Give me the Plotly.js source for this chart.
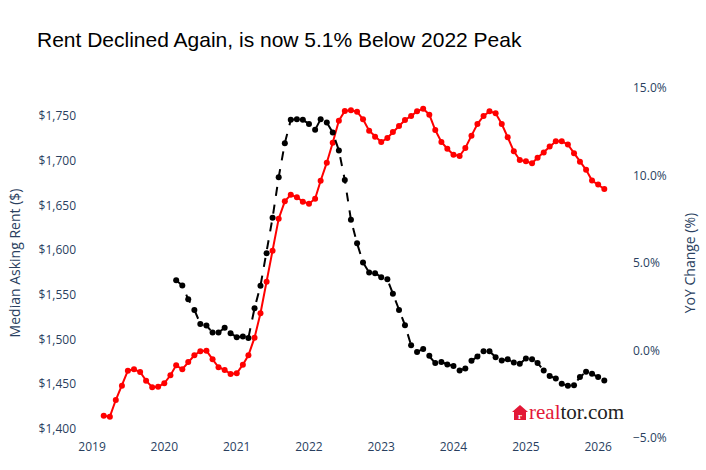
<!DOCTYPE html>
<html>
<head>
<meta charset="utf-8">
<script src="https://cdn.plot.ly/plotly-3.0.1.min.js"></script>
<style>
html,body{margin:0;padding:0;background:#fff;}
#chart{width:706px;height:470px;}
</style>
</head>
<body>
<div id="chart"></div>
<script>
// ---- Data ----
// Median asking rent, monthly, starting March 2019
const rentStartYear = 2019, rentStartMonth = 3;
const rentValues = [
  1414.9, 1413.8, 1432.4, 1448.4, 1465.2, 1466.8, 1463.7, 1454.0, 1446.6, 1447.3,
  1451.1, 1460.0, 1471.2, 1466.8, 1474.9, 1482.4, 1486.9, 1487.6, 1477.9, 1469.0, 1466.0, 1461.5,
  1462.3, 1471.9, 1482.4, 1502.1, 1529.4, 1564.7, 1599.4, 1635.2, 1654.6, 1662.0, 1659.1, 1654.2,
  1651.9, 1657.5, 1677.6, 1697.8, 1720.1, 1744.7, 1755.6, 1756.4, 1754.8, 1746.3, 1733.6, 1726.9,
  1720.9, 1725.4, 1732.1, 1738.8, 1745.5, 1750.0, 1755.2, 1758.2, 1751.5, 1734.3, 1720.9, 1713.4,
  1706.7, 1705.3, 1714.2, 1728.0, 1741.0, 1750.0, 1755.2, 1753.0, 1741.0, 1726.2, 1710.5, 1700.8,
  1699.4, 1697.2, 1703.2, 1709.2, 1715.9, 1721.8, 1721.8, 1718.1, 1708.4, 1698.8, 1689.8, 1677.9,
  1673.5, 1668.3
];
// Year-over-year change (%), monthly, starting March 2020
const yoyStartYear = 2020, yoyStartMonth = 3;
const yoyValues = [
  4.02, 3.71, 2.93, 2.32, 1.52, 1.43, 1.03, 1.03, 1.30, 0.99,
  0.76, 0.80, 0.72, 2.42, 3.70, 5.56, 7.58, 9.90, 11.85, 13.18, 13.22, 13.18,
  12.95, 12.61, 13.22, 13.03, 12.46, 11.43, 9.75, 7.47, 6.13, 5.03, 4.46, 4.42,
  4.19, 4.07, 3.24, 2.32, 1.45, 0.30, -0.08, 0.08, -0.30, -0.72, -0.65, -0.80,
  -0.88, -1.14, -1.03, -0.59, -0.34, -0.04, -0.04, -0.38, -0.57, -0.50, -0.69, -0.76,
  -0.46, -0.50, -0.72, -1.14, -1.45, -1.60, -1.90, -2.02, -1.98, -1.52, -1.22, -1.33,
  -1.52, -1.71
];
const xTickYears = ['2019','2020','2021','2022','2023','2024','2025','2026'];
const titleText = 'Rent Declined Again, is now 5.1% Below 2022 Peak';

// ---- Helpers ----
function monthDates(y, m, n) {
  const out = [];
  for (let i = 0; i < n; i++) {
    const mm = m - 1 + i;
    const yy = y + Math.floor(mm / 12);
    const mo = (mm % 12) + 1;
    out.push(yy + '-' + String(mo).padStart(2, '0') + '-01');
  }
  return out;
}
const rentDates = monthDates(rentStartYear, rentStartMonth, rentValues.length);
const yoyDates = monthDates(yoyStartYear, yoyStartMonth, yoyValues.length);

const traces = [
  {
    x: rentDates, y: rentValues, type: 'scatter', mode: 'lines+markers',
    name: 'Median Asking Rent', yaxis: 'y',
    line: {color: '#ff0000', width: 2},
    marker: {color: '#ff0000', size: 6}
  },
  {
    x: yoyDates, y: yoyValues, type: 'scatter', mode: 'lines+markers',
    name: 'YoY Change', yaxis: 'y2',
    line: {color: '#000000', width: 2, dash: 'dash'},
    marker: {color: '#000000', size: 6}
  }
];

const PL = 77, PR = 632, PT = 88, PB = 438;
function px2x(p) { return (p - PL) / (PR - PL); }
function px2y(p) { return (PB - p) / (PB - PT); }
const housePath = 'M ' + px2x(512) + ' ' + px2y(412) +
  ' L ' + px2x(520) + ' ' + px2y(405) +
  ' L ' + px2x(528) + ' ' + px2y(412) +
  ' L ' + px2x(526) + ' ' + px2y(412) +
  ' L ' + px2x(526) + ' ' + px2y(420) +
  ' L ' + px2x(514) + ' ' + px2y(420) +
  ' L ' + px2x(514) + ' ' + px2y(412) + ' Z';

const layout = {
  width: 706, height: 470,
  margin: {l: PL, r: 706 - PR, t: PT, b: 470 - PB, pad: 0},
  paper_bgcolor: '#ffffff', plot_bgcolor: '#ffffff',
  font: {family: '"Open Sans", verdana, arial, sans-serif', size: 12, color: '#2a3f5f'},
  showlegend: false,
  title: {
    text: titleText,
    font: {family: '"Liberation Sans", Arial, sans-serif', size: 21, color: '#000000'},
    xref: 'container', x: 37 / 706, xanchor: 'left',
    yref: 'container', y: 1 - 40 / 470, yanchor: 'middle'
  },
  xaxis: {
    type: 'date',
    range: ['2018-10-17', '2026-06-21'],
    tickvals: xTickYears.map(y => y + '-01-01'),
    ticktext: xTickYears,
    showgrid: false, zeroline: false, showline: false, ticks: ''
  },
  yaxis: {
    title: {text: 'Median Asking Rent ($)', font: {size: 14}, standoff: 14},
    range: [1389.9, 1781.3],
    dtick: 50, tickprefix: '$', tickformat: ',d',
    showgrid: false, zeroline: false, showline: false, ticks: ''
  },
  yaxis2: {
    title: {text: 'YoY Change (%)', font: {size: 14}, standoff: 19},
    overlaying: 'y', side: 'right',
    range: [-5, 15], dtick: 5, tickformat: '.1f', ticksuffix: '%',
    showgrid: false, zeroline: false, showline: false, ticks: ''
  },
  shapes: [
    {type: 'path', xref: 'paper', yref: 'paper', path: housePath,
     fillcolor: '#e31837', line: {width: 0}}
  ],
  annotations: [
    {xref: 'paper', yref: 'paper', x: px2x(520), y: px2y(416), xanchor: 'center', yanchor: 'middle',
     text: '<b>r</b>', showarrow: false,
     font: {family: '"Liberation Serif", serif', size: 9, color: '#ffffff'}},
    {xref: 'paper', yref: 'paper', x: px2x(527), y: px2y(412), xanchor: 'left', yanchor: 'middle',
     text: '<span style="color:#e31837">real</span>tor.com', showarrow: false,
     font: {family: '"Liberation Serif", "Times New Roman", serif', size: 21, color: '#222222'}}
  ]
};

Plotly.newPlot('chart', traces, layout, {displayModeBar: false, staticPlot: true});
</script>
</body>
</html>
